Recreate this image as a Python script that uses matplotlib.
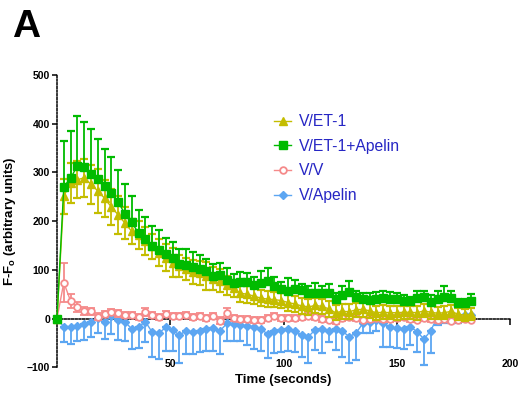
import numpy as np
import matplotlib
matplotlib.use("Agg")
import matplotlib.pyplot as plt
from matplotlib.lines import Line2D

plt.rcParams['font.family'] = ['Liberation Sans', 'DejaVu Sans']
plt.rcParams['mathtext.fontset'] = 'custom'
plt.rcParams['mathtext.rm'] = 'Liberation Sans:bold'
plt.rcParams['mathtext.it'] = 'Liberation Sans:bold'
plt.rcParams['mathtext.bf'] = 'Liberation Sans:bold'

time_s = np.arange(0, 184, 3)

et1 = [0, 251, 279, 285, 289, 276, 262, 247, 229, 213, 196, 179, 171, 159, 148, 135,
       125, 115, 108, 102, 96, 93, 88, 82, 78, 68, 62, 52, 50, 46, 42, 40,
       39, 37, 33, 30, 26, 24, 27, 25, 20, 12, 15, 14, 18, 19, 16, 12,
       13, 12, 12, 13, 13, 12, 16, 13, 11, 12, 15, 9, 7, 9]
et1_err = [0, 36, 41, 38, 39, 40, 45, 38, 36, 39, 33, 26, 29, 28, 26, 28,
           28, 29, 23, 23, 25, 25, 29, 23, 23, 20, 18, 17, 17, 17, 16, 17,
           16, 16, 17, 16, 16, 17, 16, 15, 16, 15, 15, 15, 14, 15, 14, 14,
           14, 13, 14, 13, 13, 14, 13, 13, 12, 13, 12, 12, 12, 12]

et1_apelin = [0, 271, 288, 314, 311, 297, 287, 272, 258, 239, 215, 198, 175, 164, 150, 141,
              133, 125, 112, 111, 105, 102, 97, 88, 89, 79, 74, 75, 75, 68, 74, 77,
              66, 60, 56, 61, 59, 53, 53, 53, 52, 40, 48, 55, 44, 41, 38, 40,
              42, 41, 40, 36, 36, 42, 44, 34, 40, 45, 42, 31, 31, 36]
et1_apelin_err = [0, 94, 97, 101, 93, 92, 82, 77, 74, 65, 61, 54, 47, 45, 40, 40,
                  33, 33, 30, 32, 32, 29, 26, 25, 26, 24, 17, 21, 19, 17, 24, 27,
                  20, 15, 27, 18, 12, 13, 21, 13, 18, 12, 19, 22, 12, 12, 14, 15,
                  15, 14, 12, 12, 9, 15, 12, 14, 16, 22, 15, 10, 10, 15]

vv = [0, 74, 36, 24, 16, 15, 4, 9, 14, 11, 8, 7, 4, 14, 7, 4,
      9, 6, 6, 7, 3, 5, 2, 6, -4, 12, 1, 0, 0, -3, -3, 1,
      5, 2, 1, 1, 3, 6, 3, 0, -2, -5, 2, 4, 1, -2, 0, 2,
      -1, 0, 1, 3, 0, -2, 1, 0, -3, -1, -4, -2, -1, -2]
vv_err = [0, 40, 15, 11, 8, 7, 7, 6, 6, 7, 6, 6, 6, 8, 6, 6,
          6, 6, 6, 6, 6, 6, 6, 6, 7, 10, 6, 6, 6, 6, 6, 6,
          6, 6, 6, 6, 6, 6, 6, 6, 6, 7, 6, 6, 6, 6, 6, 6,
          6, 6, 6, 6, 6, 6, 6, 6, 6, 6, 6, 6, 6, 6]

v_apelin = [0, -17, -18, -15, -11, -6, 1, -8, 5, -3, -7, -21, -18, -6, -28, -30,
            -18, -23, -34, -25, -28, -26, -22, -19, -25, -10, -11, -13, -15, -17, -21, -32,
            -25, -24, -21, -25, -34, -37, -23, -22, -26, -22, -26, -37, -30, -10, -7, -2,
            -10, -17, -20, -22, -17, -27, -42, -25, 4, 5, 4, 4, 7, 8]
v_apelin_err = [0, 31, 34, 30, 32, 31, 30, 33, 37, 40, 40, 41, 43, 42, 51, 52,
                49, 44, 57, 48, 44, 43, 45, 48, 48, 37, 34, 34, 39, 45, 45, 48,
                45, 45, 45, 43, 44, 54, 41, 49, 23, 42, 52, 54, 55, 20, 22, 24,
                48, 42, 41, 40, 38, 41, 53, 45, 17, 15, 14, 13, 12, 12]

labels = ['V/ET-1', 'V/ET-1+Apelin', 'V/V', 'V/Apelin']
c_yel = '#c4bd00'
c_grn = '#00bb00'
c_red = '#f58a8a'
c_blu = '#5ca6f2'

fig = plt.figure(figsize=(5.21, 3.93), dpi=100)
W, H = 521, 393
ax = fig.add_axes([57 / W, 1 - 367.3 / H, (510 - 57) / W, (367.3 - 75) / H])

zeros = np.zeros(len(time_s))
common = dict(elinewidth=1.3, capsize=2.6, capthick=1.6, linewidth=1.0, clip_on=False)

ax.errorbar(time_s, v_apelin, yerr=[v_apelin_err, zeros], color=c_blu, marker='D',
            markersize=4.5, mec=c_blu, mfc=c_blu, zorder=3, **common)
ax.errorbar(time_s, vv, yerr=vv_err, color=c_red, marker='o', markersize=4.8,
            mec=c_red, mfc='white', mew=1.3, zorder=4, **common)
ax.errorbar(time_s, et1, yerr=et1_err, color=c_yel, marker='^', markersize=5.3,
            mec=c_yel, mfc=c_yel, zorder=5, **common)
ax.errorbar(time_s, et1_apelin, yerr=[zeros, et1_apelin_err], color=c_grn, marker='s',
            markersize=5.2, mec=c_grn, mfc=c_grn, zorder=6, **common)

ax.set_xlim(0, 200)
ax.set_ylim(-100, 500)
ax.set_xticks([50, 100, 150, 200])
ax.set_yticks([-100, 0, 100, 200, 300, 400, 500])

for s in ['top', 'right']:
    ax.spines[s].set_visible(False)
ax.spines['bottom'].set_position(('data', 0))
for s in ['bottom', 'left']:
    ax.spines[s].set_linestyle((0, (1.2, 1.2)))
    ax.spines[s].set_linewidth(1.1)
    ax.spines[s].set_color('black')
    ax.spines[s].set_zorder(2)

ax.tick_params(axis='y', length=3.5, width=1.1, pad=1.5, labelsize=7.5)
ax.tick_params(axis='x', length=4, width=1.1, pad=25, labelsize=7.5)
for lab in ax.get_xticklabels() + ax.get_yticklabels():
    lab.set_fontweight('bold')

ax.set_xlabel('Time (seconds)', fontsize=9.5, fontweight='bold')
ax.xaxis.set_label_coords(0.5, -0.022)
ax.set_ylabel(r'F-F$_\mathrm{o}$ (arbitrary units)', fontsize=9.5, fontweight='bold')
ax.yaxis.set_label_coords(-0.086, 0.5)

handles = [
    Line2D([], [], color=c_yel, marker='^', markersize=5.3, lw=1.0),
    Line2D([], [], color=c_grn, marker='s', markersize=5.2, lw=1.0),
    Line2D([], [], color=c_red, marker='o', markersize=4.8, mfc='white', mew=1.3, lw=1.0),
    Line2D([], [], color=c_blu, marker='D', markersize=4.5, lw=1.0),
]
leg = ax.legend(handles, labels, loc='upper left', bbox_to_anchor=(274 / W, 1 - 114 / H),
                bbox_transform=fig.transFigure, frameon=False, fontsize=11.3,
                labelspacing=0.62, handlelength=1.1, handletextpad=0.5,
                borderpad=0, borderaxespad=0)
for t in leg.get_texts():
    t.set_color('#2626c4')

fig.text(12 / W, 1 - 9 / H, 'A', fontsize=28, fontweight='bold', va='top', ha='left')

fig.savefig('out.png', dpi=100)
